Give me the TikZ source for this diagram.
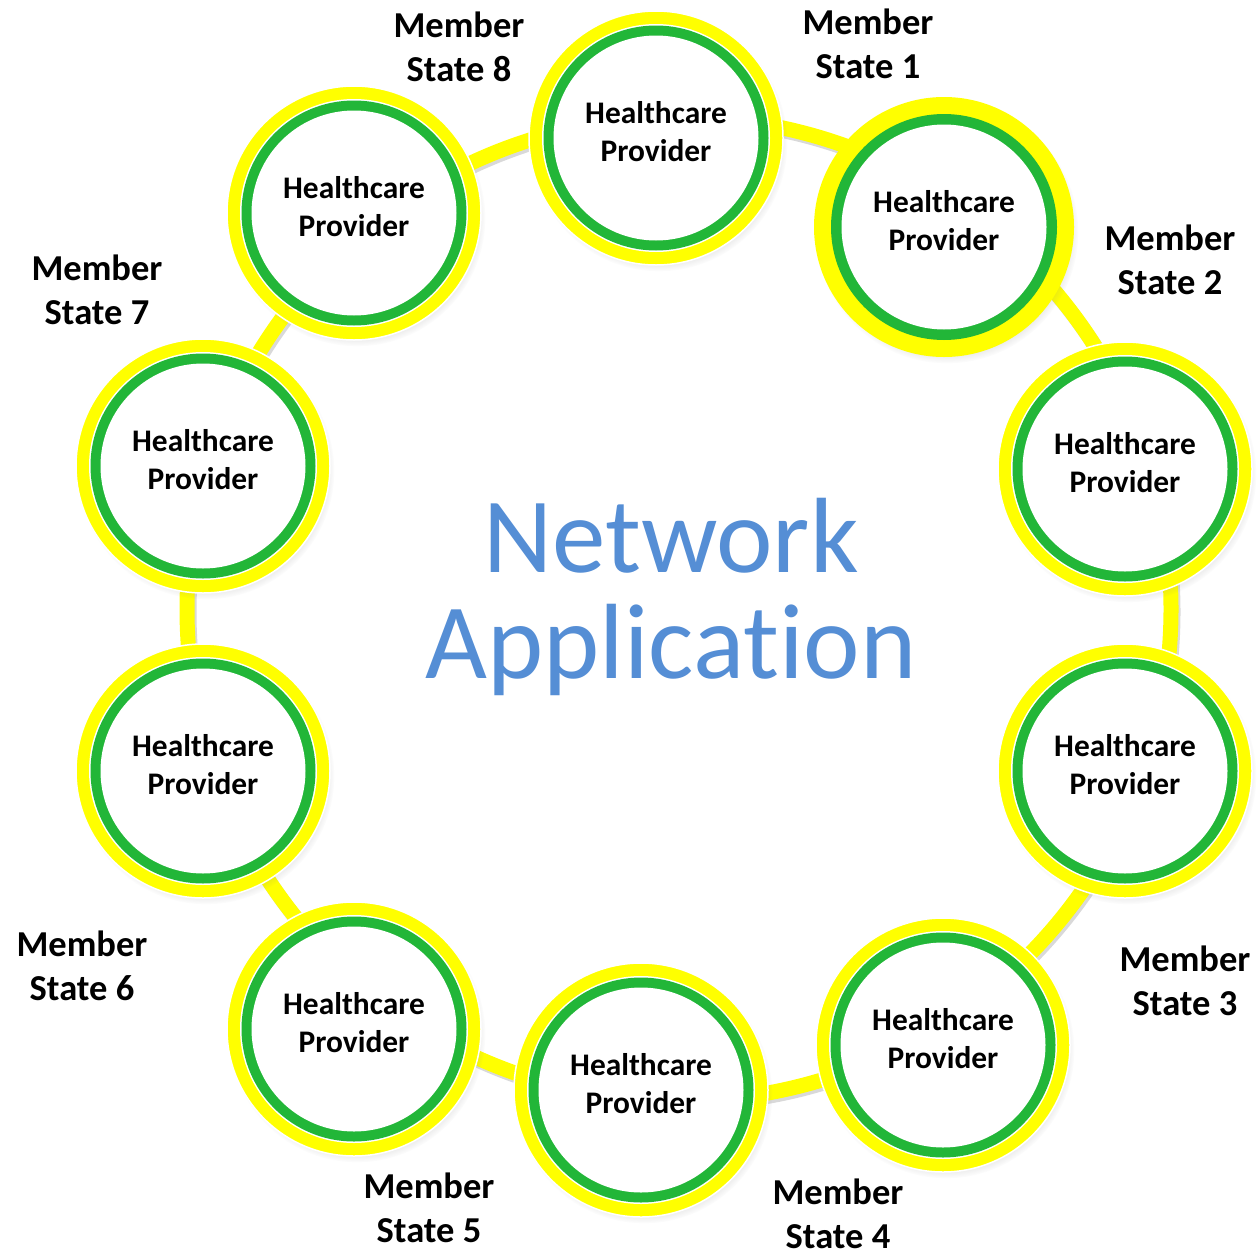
\documentclass[tikz,border=0pt]{standalone}
\usepackage{fontspec}
\setmainfont{Carlito}[Ligatures=CommonOff]
\usetikzlibrary{shadows,calc}
\definecolor{ringyellow}{RGB}{255,255,0}
\definecolor{provgreen}{RGB}{34,182,56}
\definecolor{netblue}{RGB}{85,142,213}
\tikzset{
  hpouter/.style={circle, minimum size=254pt, inner sep=0pt, fill=ringyellow, draw=white, line width=1.5pt,
    circular drop shadow={shadow xshift=3pt, shadow yshift=-5pt, shadow scale=1.01, opacity=0.35}},
  hpglow/.style={circle, minimum size=260pt, inner sep=0pt, fill=ringyellow,
    circular drop shadow={shadow xshift=3pt, shadow yshift=-5pt, shadow scale=1.01, opacity=0.35}},
  hptext/.style={align=center, font=\bfseries\fontsize{31.4}{38}\selectfont, inner sep=0pt},
  mslabel/.style={align=center, font=\bfseries\fontsize{36.5}{44.5}\selectfont, inner sep=0pt},
  nettext/.style={align=center, text=netblue, font=\fontsize{107}{106}\selectfont, inner sep=0pt},
  ringline/.style={draw=ringyellow, line width=15pt},
  ringshadow/.style={draw=black, opacity=0.15, line width=15pt},
}
\newcommand\hpnode[3]{%
  \node[hpouter] (#1) at (#2,#3) {};
  \fill[white] (#1.center) circle[radius=114pt];
  \fill[provgreen] (#1.center) circle[radius=112.5pt];
  \fill[white] (#1.center) circle[radius=102.5pt];
  \node[hptext] (#1t) at ($(#1.center)+(0,-6)$) {Healthcare\\Provider};
}
\begin{document}
\begin{tikzpicture}[x=1pt,y=-1pt]
\useasboundingbox (0,0) rectangle (1256,1258);
\fill[white] (0,0) rectangle (1256,1258);
% network ring
\coordinate (ringc) at (679,609);
\draw[ringshadow] ($(ringc)+(2,3)$) circle[radius=492pt];
\draw[ringline] (ringc) circle[radius=492pt];
% providers
\hpnode{p8}{656}{138}
\hpnode{p3}{1125}{469}
\hpnode{p4}{1125}{771}
\hpnode{p5}{943}{1045}
\hpnode{p6}{641}{1090}
\hpnode{p7}{354}{1029}
\hpnode{p9}{203}{771}
\hpnode{p10}{203}{466}
\hpnode{p11}{354}{213}
% glowing provider (Member State 1)
\node[hpglow] (p1) at (944,227) {};
\fill[provgreen] (p1.center) circle[radius=113pt];
\fill[white] (p1.center) circle[radius=102.5pt];
\node[hptext] (p1t) at ($(p1.center)+(0,-6)$) {Healthcare\\Provider};
% labels
\node[mslabel] (ms8) at (459,47) {Member\\State 8};
\node[mslabel] (ms1) at (868,44) {Member\\State 1};
\node[mslabel] (ms2) at (1170,260) {Member\\State 2};
\node[mslabel] (ms7) at (97,290) {Member\\State 7};
\node[mslabel] (ms6) at (82,966) {Member\\State 6};
\node[mslabel] (ms5) at (429,1208) {Member\\State 5};
\node[mslabel] (ms4) at (838,1214) {Member\\State 4};
\node[mslabel] (ms3) at (1185,981) {Member\\State 3};
% centre title
\node[nettext] (net) at (671,597) {Network\\Application};
\end{tikzpicture}
\end{document}
